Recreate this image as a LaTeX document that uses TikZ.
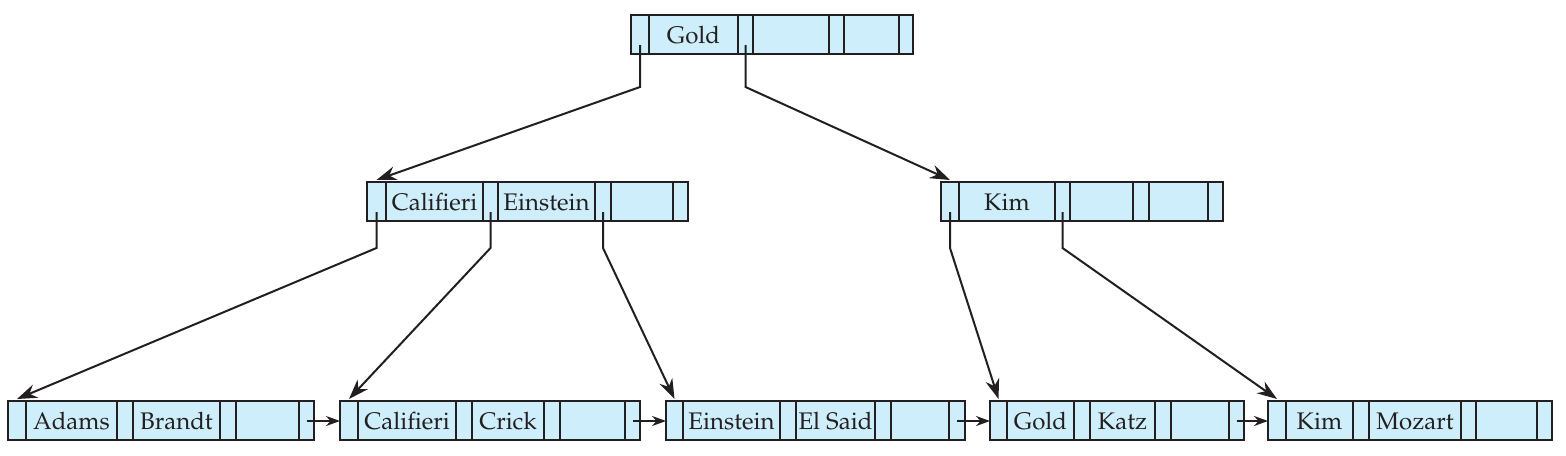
\documentclass[tikz,border=0pt]{standalone}
\usepackage[T1]{fontenc}
\usepackage{mathpazo}
\usetikzlibrary{calc,arrows.meta,fit}
\definecolor{cellfill}{RGB}{205,238,250}
\definecolor{ink}{RGB}{35,31,32}
\tikzset{
  cellline/.style={draw=ink, line width=1.1pt},
  blockbox/.style={cellline, fill=cellfill, inner sep=0pt, outer sep=0pt},
  keytext/.style={anchor=base, inner sep=0pt, font=\fontsize{12}{14}\selectfont, text=ink},
  ptr/.style={draw=ink, line width=1pt, -{Stealth[length=10pt,width=7pt]}},
  sib/.style={draw=ink, line width=1pt, -{Stealth[length=7pt,width=5pt]}},
}
\newcommand\bpnode[6]{%
  \foreach \x [count=\i from 0] in {#3} {\coordinate (#1-\i) at (\x,#2);}
  \coordinate (#1-b) at ($(#1-7)+(0,39)$);
  \node[blockbox, fit=(#1-0)(#1-b)] (#1) {};
  \foreach \i in {1,...,6} {\draw[cellline] (#1-\i) -- ++(0,39);}
  \node[keytext] (#1-k1) at ($(#1-1)!0.5!(#1-2)+(0,28.5)$) {#4};
  \node[keytext] (#1-k2) at ($(#1-3)!0.5!(#1-4)+(0,28.5)$) {#5};
  \node[keytext] (#1-k3) at ($(#1-5)!0.5!(#1-6)+(0,28.5)$) {#6};
}
\begin{document}
\begin{tikzpicture}[x=0.5pt,y=-0.5pt]
\useasboundingbox (0,0) rectangle (1566,455);
% root
\bpnode{g}{15}{631,649,738,753,829,844,899,913}{Gold}{}{}
% internal
\bpnode{c}{182}{367,386,483,498,595,611,673,688}{Califieri}{Einstein}{}
\bpnode{k}{182}{941,959,1055,1070,1133,1149,1208,1223}{Kim}{}{}
% leaves
\bpnode{la}{401}{8,26,117,133,220,236,299,314}{Adams}{Brandt}{}
\bpnode{lb}{401}{340,358,456,472,544,560,625,640}{Califieri}{Crick}{}
\bpnode{lc}{401}{666,683,780,796,875,891,949,965}{Einstein}{El Said}{}
\bpnode{ld}{401}{990,1007,1074,1090,1155,1171,1229,1244}{Gold}{Katz}{}
\bpnode{le}{401}{1268,1286,1353,1369,1461,1476,1537,1552}{Kim}{Mozart}{}
% root pointers
\draw[ptr] ($(g-0)!0.5!(g-1)+(0,30)$) -- ++(0,42) -- ($(c-0)!0.5!(c-1)+(0,-2)$);
\draw[ptr] ($(g-2)!0.5!(g-3)+(0,30)$) -- ++(0,42) -- ($(k-0)!0.5!(k-1)+(0,-2)$);
% internal pointers
\draw[ptr] ($(c-0)!0.5!(c-1)+(0,30)$) -- ++(0,36) -- ($(la-0)!0.5!(la-1)+(0,-2)$);
\draw[ptr] ($(c-2)!0.5!(c-3)+(0,30)$) -- ++(0,36) -- ($(lb-0)!0.5!(lb-1)+(0,-2)$);
\draw[ptr] ($(c-4)!0.5!(c-5)+(0,30)$) -- ++(0,36) -- ($(lc-0)!0.5!(lc-1)+(0,-2)$);
\draw[ptr] ($(k-0)!0.5!(k-1)+(0,30)$) -- ++(0,36) -- ($(ld-0)!0.5!(ld-1)+(0,-2)$);
\draw[ptr] ($(k-2)!0.5!(k-3)+(0,30)$) -- ++(0,36) -- ($(le-0)!0.5!(le-1)+(0,-2)$);
% sibling pointers
\draw[sib] ($(la-6)!0.5!(la-7)+(0,20)$) -- ($(lb-0)+(0,20)$);
\draw[sib] ($(lb-6)!0.5!(lb-7)+(0,20)$) -- ($(lc-0)+(0,20)$);
\draw[sib] ($(lc-6)!0.5!(lc-7)+(0,20)$) -- ($(ld-0)+(0,20)$);
\draw[sib] ($(ld-6)!0.5!(ld-7)+(0,20)$) -- ($(le-0)+(0,20)$);
\end{tikzpicture}
\end{document}
